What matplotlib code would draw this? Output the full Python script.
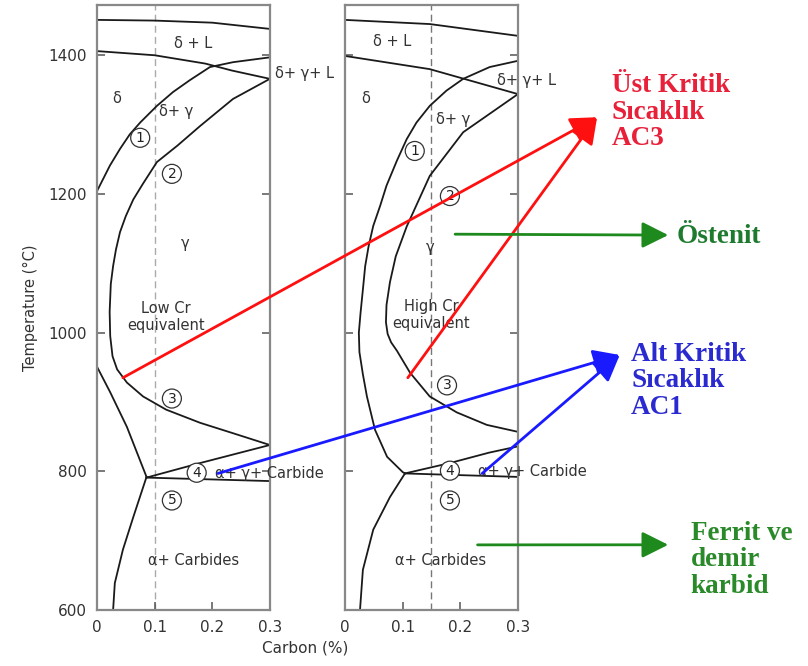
import matplotlib
matplotlib.use('Agg')
import matplotlib.pyplot as plt

# ---- phase boundaries, low Cr equivalent (left panel) ----
lo_top_c = [0, 0.1, 0.2, 0.3]
lo_top_t = [1451, 1450, 1447, 1438]
lo_sol_c = [0, 0.1, 0.188, 0.234, 0.3]
lo_sol_t = [1406, 1400, 1388, 1378, 1366]
lo_b1_c = [0, 0.0225, 0.04, 0.057, 0.075, 0.104, 0.132, 0.161, 0.196, 0.236, 0.3]
lo_b1_t = [1204, 1241, 1265, 1286, 1303, 1327, 1347, 1364, 1383, 1390, 1397]
lo_b2_c = [0.3, 0.236, 0.179, 0.14, 0.104, 0.08, 0.063, 0.05, 0.04, 0.033, 0.028,
           0.024, 0.022, 0.023, 0.027, 0.035, 0.052, 0.08, 0.12, 0.179, 0.236, 0.3]
lo_b2_t = [1366, 1337, 1298, 1270, 1246, 1215, 1192, 1168, 1145, 1120, 1096,
           1070, 1030, 995, 966, 947, 928, 908, 889, 870, 855, 838]
lo_a3_c = [0, 0.023, 0.052, 0.086]
lo_a3_t = [951, 914, 864, 792]
lo_sv_c = [0.086, 0.063, 0.045, 0.031, 0.028]
lo_sv_t = [792, 734, 687, 639, 600]
lo_eut_c = [0.086, 0.3]
lo_eut_t = [791, 786]
lo_up_c = [0.086, 0.179, 0.3]
lo_up_t = [791, 812, 838]

# ---- phase boundaries, high Cr equivalent (right panel) ----
hi_top_c = [0, 0.147, 0.3]
hi_top_t = [1451, 1445, 1428]
hi_sol_c = [0, 0.147, 0.3]
hi_sol_t = [1399, 1380, 1344]
hi_b1_c = [0.3, 0.251, 0.205, 0.176, 0.147, 0.124, 0.107, 0.09, 0.072, 0.061, 0.049,
           0.041, 0.035, 0.031, 0.027, 0.024, 0.025, 0.031, 0.038, 0.052, 0.073, 0.1, 0.104]
hi_b1_t = [1392, 1383, 1366, 1349, 1327, 1303, 1279, 1248, 1212, 1183, 1154,
           1125, 1096, 1062, 1029, 1000, 972, 940, 908, 860, 821, 799, 797]
hi_sv_c = [0.104, 0.078, 0.049, 0.031, 0.026]
hi_sv_t = [797, 763, 716, 658, 600]
hi_b2_c = [0.3, 0.205, 0.147, 0.107, 0.088, 0.078, 0.072, 0.071, 0.074, 0.08, 0.09,
           0.113, 0.147, 0.194, 0.246, 0.3]
hi_b2_t = [1344, 1289, 1226, 1153, 1110, 1073, 1040, 1015, 998, 986, 974,
           942, 908, 885, 867, 857]
hi_eut_c = [0.104, 0.3]
hi_eut_t = [797, 792]
hi_up_c = [0.104, 0.182, 0.25, 0.3]
hi_up_t = [797, 812, 827, 836]

# region labels (text, carbon, temperature)
lo_labels = [('δ + L', 0.167, 1417), ('δ', 0.034, 1337), ('δ+ γ', 0.138, 1319),
             ('γ', 0.153, 1128), ('Low Cr\nequivalent', 0.12, 1023),
             ('α+ Carbides', 0.168, 672)]
hi_labels = [('δ + L', 0.082, 1420), ('δ', 0.035, 1338), ('δ+ γ', 0.187, 1308),
             ('γ', 0.147, 1123), ('High Cr\nequivalent', 0.15, 1025),
             ('α+ Carbides', 0.165, 672)]
lo_circles = [('1', 0.075, 1281), ('2', 0.13, 1229), ('3', 0.13, 905),
              ('4', 0.173, 798), ('5', 0.13, 758)]
hi_circles = [('1', 0.121, 1262), ('2', 0.182, 1197), ('3', 0.177, 924),
              ('4', 0.182, 801), ('5', 0.182, 758)]

xticks = [0, 0.1, 0.2, 0.3]
xtick_labels = ['0', '0.1', '0.2', '0.3']
yticks = [600, 800, 1000, 1200, 1400]

fig = plt.figure(figsize=(8.08, 6.66), dpi=100)
fig.patch.set_facecolor('white')
axL = fig.add_axes([0.120, 0.084, 0.214, 0.908])
axR = fig.add_axes([0.427, 0.084, 0.214, 0.908])


def draw_panel(ax, curves, dash_x, dash_col, labels, circles):
    for c, t in curves:
        ax.plot(c, t, color='#1a1a1a', lw=1.3, solid_joinstyle='round')
    ax.axvline(dash_x, color=dash_col, lw=1.0, ls=(0, (5, 3)), zorder=1)
    ax.set_xlim(0, 0.3)
    ax.set_ylim(600, 1472)
    ax.set_xticks(xticks)
    ax.set_xticklabels(xtick_labels)
    ax.set_yticks(yticks)
    ax.tick_params(direction='in', length=6, width=1.1, color='#555555',
                   labelsize=11, labelcolor='#333333', right=True, pad=7)
    for s in ax.spines.values():
        s.set_color('#888888')
        s.set_linewidth(1.6)
    for txt, c, t in labels:
        ax.text(c, t, txt, ha='center', va='center', fontsize=10.5,
                color='#333333', linespacing=1.15)
    for txt, c, t in circles:
        ax.text(c, t, txt, ha='center', va='center', fontsize=10,
                color='#222222', zorder=5,
                bbox=dict(boxstyle='circle,pad=0.18', fc='white', ec='#333333', lw=0.9))


draw_panel(axL, [(lo_top_c, lo_top_t), (lo_sol_c, lo_sol_t), (lo_b1_c, lo_b1_t),
                 (lo_b2_c, lo_b2_t), (lo_a3_c, lo_a3_t), (lo_sv_c, lo_sv_t),
                 (lo_eut_c, lo_eut_t), (lo_up_c, lo_up_t)],
           0.1, '#aaaaaa', lo_labels, lo_circles)
draw_panel(axR, [(hi_top_c, hi_top_t), (hi_sol_c, hi_sol_t), (hi_b1_c, hi_b1_t),
                 (hi_sv_c, hi_sv_t), (hi_b2_c, hi_b2_t), (hi_eut_c, hi_eut_t),
                 (hi_up_c, hi_up_t)],
           0.15, '#777777', hi_labels, hi_circles)
axR.set_yticklabels([])

# labels running past the right frame
axL.text(0.309, 1374, 'δ+ γ+ L', fontsize=10.5, color='#333333', va='center', clip_on=False)
axR.text(0.263, 1363, 'δ+ γ+ L', fontsize=10.5, color='#333333', va='center', clip_on=False, zorder=6)
axL.text(0.205, 797, 'α+ γ+ Carbide', fontsize=10.5, color='#333333', va='center', clip_on=False, zorder=6)
axR.text(0.23, 800, 'α+ γ+ Carbide', fontsize=10.5, color='#333333', va='center', clip_on=False, zorder=6)

axL.set_ylabel('Temperature (°C)', fontsize=10.5, color='#333333', labelpad=8)
fig.text(0.378, 0.027, 'Carbon (%)', ha='center', va='center', fontsize=11, color='#333333')

# ---- annotation arrows ----
ov = fig.add_axes([0, 0, 1, 1], facecolor='none')
ov.axis('off')

red_tip = (0.739, 0.824)
red_starts = [(axL, 0.045, 935), (axR, 0.109, 935)]
blue_tip = (0.767, 0.467)
blue_starts = [(axL, 0.21, 797), (axR, 0.238, 797)]
green_arrows = [((axR, 0.191, 1142), (0.827, 0.647)),
                ((axR, 0.23, 694), (0.827, 0.182))]


def arrow(ax_from, c, t, tip, color):
    ov.annotate('', xy=tip, xycoords='figure fraction',
                xytext=(c, t), textcoords=ax_from.transData,
                arrowprops=dict(arrowstyle='-|>,head_length=1.0,head_width=0.5',
                                color=color, lw=2, shrinkA=0, shrinkB=0,
                                mutation_scale=16),
                annotation_clip=False)


for a, c, t in red_starts:
    arrow(a, c, t, red_tip, '#ff1010')
for a, c, t in blue_starts:
    arrow(a, c, t, blue_tip, '#1a1aff')
for (a, c, t), tip in green_arrows:
    arrow(a, c, t, tip, '#1e8a1e')

serif = 'Liberation Serif'
big = 19.5
fig.text(0.757, 0.890, 'Üst Kritik\nSıcaklık\nAC3', color='#e8203a', family=serif,
         fontweight='bold', fontsize=big, va='top', ha='left', linespacing=1.08)
fig.text(0.838, 0.645, 'Östenit', color='#1e7a2e', family=serif,
         fontweight='bold', fontsize=big, va='center', ha='left')
fig.text(0.781, 0.487, 'Alt Kritik\nSıcaklık\nAC1', color='#2a2ad0', family=serif,
         fontweight='bold', fontsize=big, va='top', ha='left', linespacing=1.08)
fig.text(0.855, 0.218, 'Ferrit ve\ndemir\nkarbid', color='#2a8a2a', family=serif,
         fontweight='bold', fontsize=big, va='top', ha='left', linespacing=1.08)

fig.savefig('out.png', dpi=100, facecolor='white')
